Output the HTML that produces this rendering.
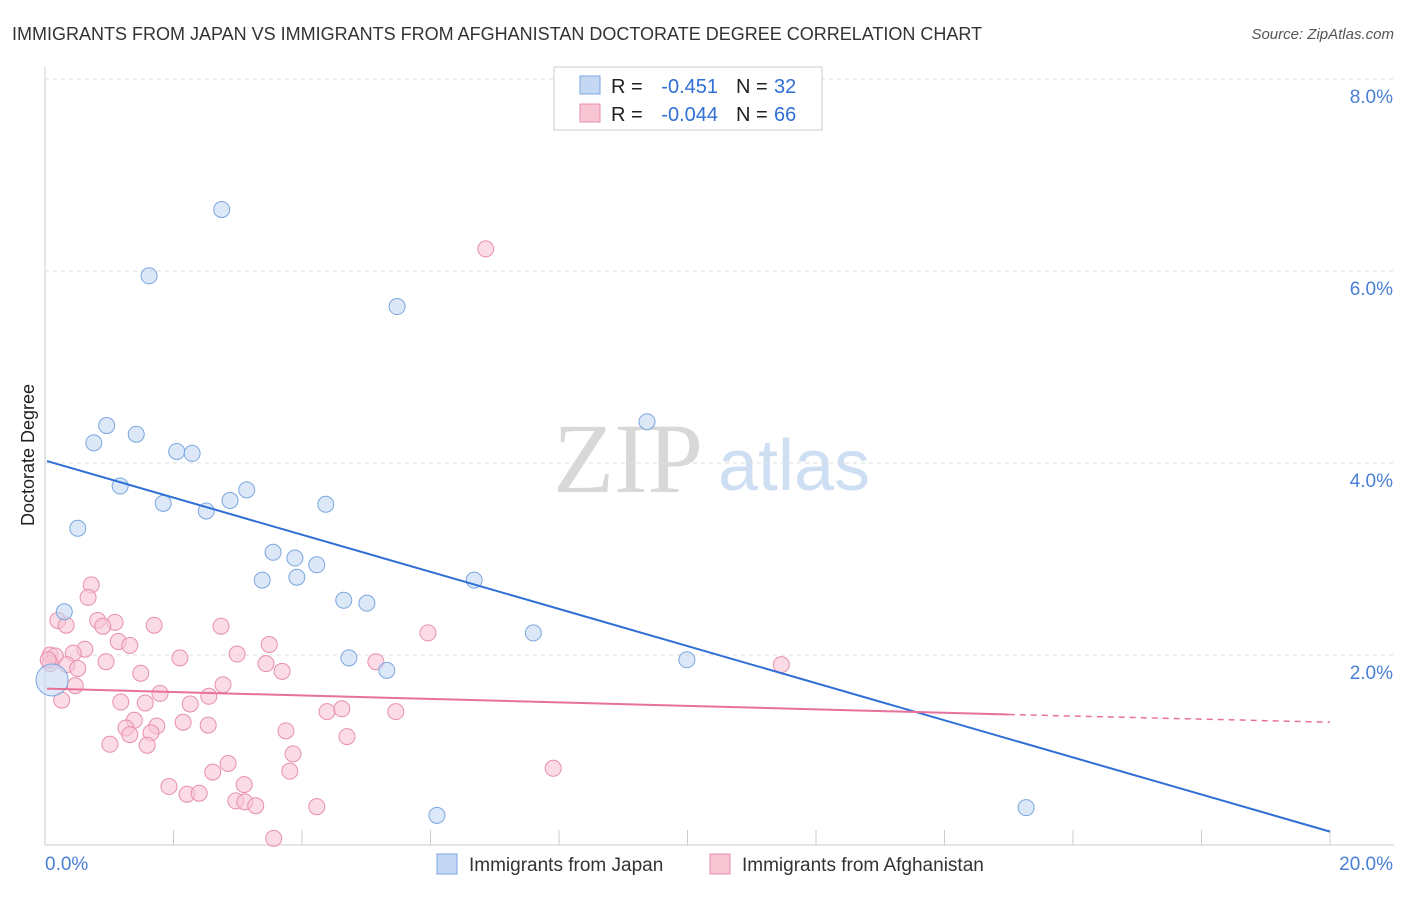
<!DOCTYPE html>
<html><head><meta charset="utf-8"><style>
body{margin:0;background:#fff;font-family:"Liberation Sans",sans-serif}
svg text{font-family:"Liberation Sans",sans-serif}
</style></head><body>
<svg id="c" width="1406" height="892" viewBox="0 0 1406 892">
<text x="12" y="40" font-size="18" fill="#333">IMMIGRANTS FROM JAPAN VS IMMIGRANTS FROM AFGHANISTAN DOCTORATE DEGREE CORRELATION CHART</text>
<text x="1394" y="39" font-size="15" fill="#555" font-style="italic" text-anchor="end">Source: ZipAtlas.com</text>
<text transform="translate(34,455) rotate(-90)" font-size="18" fill="#222" text-anchor="middle">Doctorate Degree</text>
<g><text x="553" y="492" font-size="100" fill="#d8d8d8" style="font-family:'Liberation Serif',serif">ZIP</text><text x="718" y="490" font-size="72" fill="#cfdff3">atlas</text></g>
<g id="grid"></g><g id="marks"></g>
<g>
<rect x="554" y="67" width="268" height="63" fill="#fff" stroke="#ccc"/>
<rect x="580" y="76" width="20" height="18" fill="#c5d8f3" stroke="#7aa6e0"/>
<rect x="580" y="104" width="20" height="18" fill="#f8c5d5" stroke="#e88fab"/>
<text x="611" y="93" font-size="20" fill="#222">R =</text>
<text x="718" y="93" font-size="20" fill="#2f6fd6" text-anchor="end">-0.451</text>
<text x="736" y="93" font-size="20" fill="#222">N =</text>
<text x="774" y="93" font-size="20" fill="#2f6fd6">32</text>
<text x="611" y="121" font-size="20" fill="#222">R =</text>
<text x="718" y="121" font-size="20" fill="#2f6fd6" text-anchor="end">-0.044</text>
<text x="736" y="121" font-size="20" fill="#222">N =</text>
<text x="774" y="121" font-size="20" fill="#2f6fd6">66</text>
</g>
<g>
<rect x="437" y="854" width="20" height="20" fill="#c5d8f3" stroke="#7aa6e0"/>
<text x="469" y="871" font-size="19" fill="#333">Immigrants from Japan</text>
<rect x="710" y="854" width="20" height="20" fill="#f8c5d5" stroke="#e88fab"/>
<text x="742" y="871" font-size="19" fill="#333">Immigrants from Afghanistan</text>
</g>
</svg>
<script>
const xTicks=[0,2,4,6,8,10,12,14,16,18,20];
const yTicks=[2,4,6,8];
const japanX=[2.75,1.62,5.48,9.37,0.96,0.76,1.42,2.05,2.29,1.17,3.14,1.84,2.88,2.51,4.37,0.51,3.55,3.89,3.92,4.23,3.38,6.68,0.30,4.65,5.01,7.60,4.73,5.32,9.99,6.10,15.27,0.11];
const japanY=[6.64,5.95,5.63,4.43,4.39,4.21,4.30,4.12,4.10,3.76,3.72,3.58,3.61,3.50,3.57,3.32,3.07,3.01,2.81,2.94,2.78,2.78,2.45,2.57,2.54,2.23,1.97,1.84,1.95,0.33,0.41,1.74];
const afgX=[6.86,0.72,0.67,1.09,0.82,0.20,0.33,0.90,1.70,2.74,5.96,1.14,1.32,3.49,0.08,0.16,0.62,0.44,2.99,2.10,0.34,0.51,0.95,3.44,5.15,3.69,1.49,11.46,0.47,2.77,1.79,2.55,1.18,2.26,1.56,4.39,4.62,5.46,1.39,1.26,1.74,2.15,1.65,2.54,3.75,1.32,1.59,1.01,4.70,3.86,2.85,2.61,3.81,7.91,1.93,3.10,2.21,2.40,2.97,3.11,3.28,4.23,3.56,0.08,0.05,0.26];
const afgY=[6.23,2.73,2.60,2.34,2.36,2.36,2.31,2.30,2.31,2.30,2.23,2.14,2.10,2.11,2.00,1.99,2.06,2.02,2.01,1.97,1.90,1.86,1.93,1.91,1.93,1.83,1.81,1.90,1.68,1.69,1.60,1.57,1.51,1.49,1.50,1.41,1.44,1.41,1.32,1.24,1.26,1.30,1.19,1.27,1.21,1.17,1.06,1.07,1.15,0.97,0.87,0.78,0.79,0.82,0.63,0.65,0.55,0.56,0.48,0.47,0.43,0.42,0.09,1.91,1.95,1.53];
const japanLine=[0,4.02,20,0.16];
const afgLine=[0,1.65,15,1.38,20,1.30];
const X0=45,X1=1330,Y0=847;
const x=v=>X0+(X1-X0)*v/20, y=v=>Y0-96*v;
const NS="http://www.w3.org/2000/svg";
function mk(p,t,a){const e=document.createElementNS(NS,t);for(const k in a)e.setAttribute(k,a[k]);p.appendChild(e);return e;}
const g=document.getElementById('grid'),m=document.getElementById('marks');
let ax=mk(g,'line',{x1:45,y1:67,x2:45,y2:845,stroke:'#ccc'});


let bx=mk(g,'line',{x1:45,y1:845,x2:1394,y2:845,stroke:'#ccc'});


yTicks.forEach(t=>{const l=mk(g,'line',{x1:45,y1:y(t),x2:1394,y2:y(t),stroke:'#ddd','stroke-dasharray':'4,4'});


const tx=mk(g,'text',{x:1393,y:y(t)+24,'font-size':19,fill:'#4a7fd6','text-anchor':'end'});tx.textContent=t.toFixed(1)+'%';

});
xTicks.forEach(t=>{const l=mk(g,'line',{x1:x(t),y1:830,x2:x(t),y2:845,stroke:'#ccc'});

});
[[0,45,'start'],[20,1393,'end']].forEach(([v,px,a])=>{const tx=mk(g,'text',{x:px,y:870,'font-size':19,fill:'#4a7fd6','text-anchor':a});tx.textContent=v.toFixed(1)+'%';

});
afgX.forEach((v,i)=>{const c=mk(m,'circle',{cx:x(v),cy:y(afgY[i]),r:8,fill:'#f8c5d5','fill-opacity':0.6,stroke:'#e88fab'});

});
japanX.forEach((v,i)=>{const c=mk(m,'circle',{cx:x(v),cy:y(japanY[i]),r:i==31?16:8,fill:'#c5d8f3','fill-opacity':0.6,stroke:'#7aa6e0'});

});
let jl=mk(m,'line',{x1:x(japanLine[0])+2,y1:y(japanLine[1]),x2:x(japanLine[2]),y2:y(japanLine[3]),stroke:'#2f6fd6','stroke-width':2});


let al=mk(m,'line',{x1:x(afgLine[0])+2,y1:y(afgLine[1]),x2:x(afgLine[2]),y2:y(afgLine[3]),stroke:'#e8719a','stroke-width':2});


let ad=mk(m,'line',{x1:x(afgLine[2]),y1:y(afgLine[3]),x2:x(afgLine[4]),y2:y(afgLine[5]),stroke:'#e8719a','stroke-width':1.5,'stroke-dasharray':'6,5'});


</script>
</body></html>
